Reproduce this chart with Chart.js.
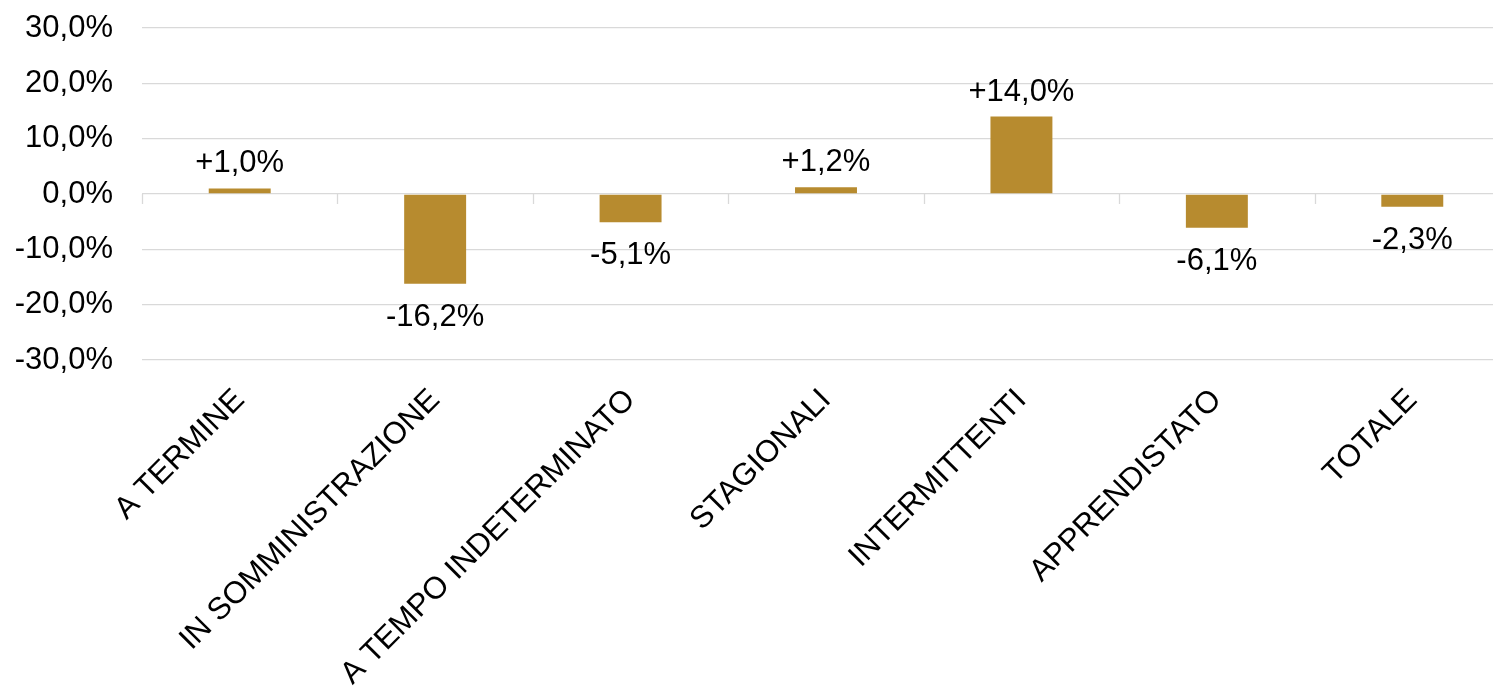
<!DOCTYPE html>
<html>
<head>
<meta charset="utf-8">
<script src="https://cdn.jsdelivr.net/npm/chart.js@4.4.1/dist/chart.umd.min.js"></script>
<style>
  html, body { margin: 0; padding: 0; overflow: hidden; background: #fff; }
  #wrap { width: 1510px; height: 692px; }
</style>
</head>
<body>
<div id="wrap"><canvas id="myChart"></canvas></div>
<script>
const categories = [
  "A TERMINE",
  "IN SOMMINISTRAZIONE",
  "A TEMPO INDETERMINATO",
  "STAGIONALI",
  "INTERMITTENTI",
  "APPRENDISTATO",
  "TOTALE",
];
const variazione = [1.0, -16.2, -5.1, 1.2, 14.0, -6.1, -2.3];
const yMin = -30;
const yMax = 30;
const yStep = 10;

const fmt = (v) => v.toFixed(1).replace(".", ",") + "%";
const gridColor = "#d9d9d9";
const font = "Liberation Sans, Arial, sans-serif";

// etichette sopra/sotto le barre
const valueLabels = {
  id: "valueLabels",
  afterDatasetsDraw(chart) {
    const { ctx } = chart;
    const meta = chart.getDatasetMeta(0);
    ctx.save();
    ctx.font = "31px " + font;
    ctx.fillStyle = "#000";
    ctx.textAlign = "center";
    ctx.textBaseline = "alphabetic";
    meta.data.forEach((bar, i) => {
      const v = variazione[i];
      const txt = (v > 0 ? "+" : "") + fmt(v);
      if (v >= 0) ctx.fillText(txt, bar.x, bar.y - 16);
      else ctx.fillText(txt, bar.x, bar.y + 42);
    });
    ctx.restore();
  },
};

// tacche sulla linea dello zero
const zeroTicks = {
  id: "zeroTicks",
  afterDraw(chart) {
    const { ctx, scales } = chart;
    const x = scales.x;
    const y0 = scales.y.getPixelForValue(0);
    const half = (x.getPixelForValue(1) - x.getPixelForValue(0)) / 2;
    ctx.save();
    ctx.strokeStyle = gridColor;
    ctx.lineWidth = 1.3;
    for (let i = 0; i <= categories.length; i++) {
      const px = Math.round(x.getPixelForValue(i) - half) + 0.5;
      ctx.beginPath();
      ctx.moveTo(px, y0);
      ctx.lineTo(px, y0 + 10);
      ctx.stroke();
    }
    ctx.restore();
  },
};

new Chart(document.getElementById("myChart"), {
  type: "bar",
  data: {
    labels: categories,
    datasets: [
      {
        data: variazione,
        backgroundColor: "#b78b2f",
        barPercentage: 0.317,
        categoryPercentage: 1,
      },
    ],
  },
  options: {
    responsive: true,
    maintainAspectRatio: false,
    animation: false,
    layout: { padding: { top: 28, left: 0, right: 0, bottom: 0 } },
    plugins: { legend: { display: false }, tooltip: { enabled: false } },
    scales: {
      x: {
        grid: { display: false },
        border: { display: false },
        ticks: {
          color: "#000",
          font: { family: font, size: 31 },
          minRotation: 45,
          maxRotation: 45,
          autoSkip: false,
          padding: 14,
        },
        afterFit: (scale) => {
          scale.height = 332;
        },
      },
      y: {
        min: yMin,
        max: yMax,
        grid: { color: gridColor, lineWidth: 1.3, drawTicks: false },
        border: { display: false },
        ticks: {
          stepSize: yStep,
          color: "#000",
          font: { family: font, size: 31 },
          padding: 29,
          callback: (v) => fmt(v),
        },
        afterFit: (scale) => {
          scale.width = 142;
          scale.paddingTop = 0;
          scale.paddingBottom = 0;
        },
      },
    },
  },
  plugins: [valueLabels, zeroTicks],
});
</script>
</body>
</html>
